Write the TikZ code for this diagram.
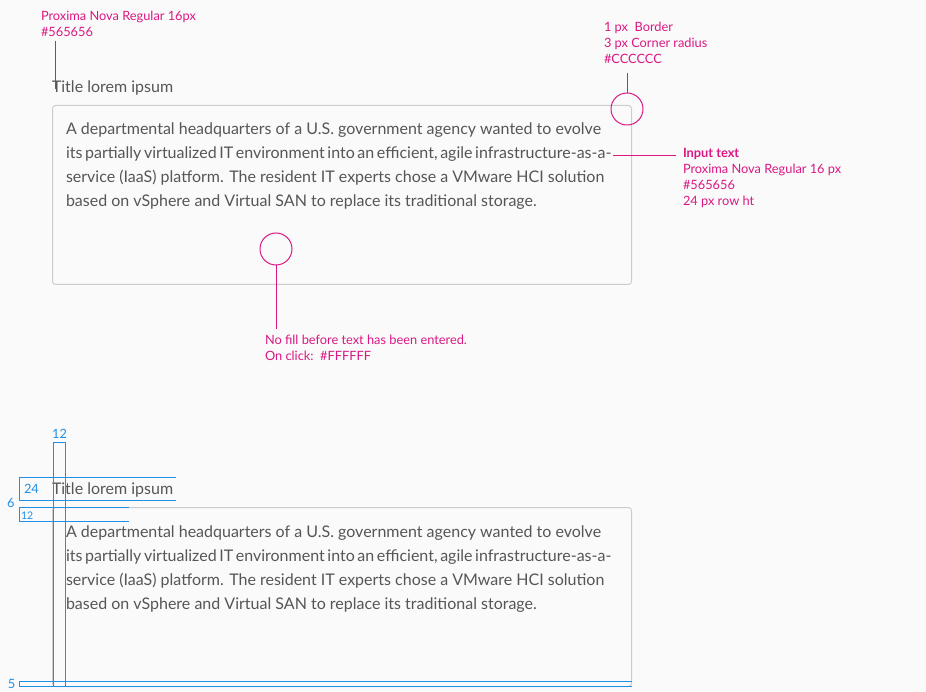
\documentclass[tikz,border=0pt]{standalone}
\usepackage{fontspec}
\setmainfont{Lato}
\definecolor{bg}{HTML}{FAFAFA}
\definecolor{txt}{HTML}{565656}
\definecolor{brd}{HTML}{CCCCCC}
\definecolor{pink}{HTML}{DA1884}
\definecolor{blu}{HTML}{1E90E6}
\begin{document}
\begin{tikzpicture}[x=1pt,y=-1pt,
  every node/.style={inner sep=0pt,outer sep=0pt},
  ann/.style={anchor=base west,text=pink,font=\fontsize{12.8}{16}\selectfont},
  body/.style={anchor=base west,text=txt,font=\fontsize{16}{24}\selectfont},
  ttl/.style={anchor=base west,text=txt,font=\fontsize{16}{18}\selectfont},
  inbox/.style={draw=brd,line width=1pt,rounded corners=3pt},
  ring/.style={circle,draw=pink,line width=1pt,minimum size=32pt},
  pline/.style={draw=pink,line width=1pt},
  bline/.style={draw=blu,line width=1pt},
  bnum/.style={anchor=base west,text=blu,font=\fontsize{12.8}{14}\selectfont},
]
\fill[bg] (0,0) rectangle (926,692);
\useasboundingbox (0,0) rectangle (926,692);

% ---------- top section ----------
\node[ann] (a1) at (41,20.5) {Proxima Nova Regular 16px};
\node[ann] (a2) at (41,36.5) {\#565656};
\node[ttl] (t1) at (52,92.5) {Title lorem ipsum};
\coordinate (a2b) at (55,41);
\coordinate (t1t) at (55,89);
\draw[pline] (a2b) -- (t1t);

\draw[inbox] (52.5,105.5) rectangle (631.5,284.5);
\node[body] (l1) at (66,135) {A departmental headquarters of a U.S. government agency wanted to evolve};
\node[body] (l2) at (66,159) {\spaceskip=2.6pt plus 1pt its partially virtualized IT environment into an efficient, agile infrastructure-as-a-};
\node[body] (l3) at (66,183) {service (IaaS) platform. The resident IT experts chose a VMware HCI solution};
\node[body] (l4) at (66,207) {based on vSphere and Virtual SAN to replace its traditional storage.};

\node[ann] (b1) at (604,32) {1 px\ \ Border};
\node[ann] (b2) at (604,48) {3 px Corner radius};
\node[ann] (b3) at (604,64) {\#CCCCCC};
\node[ring] (c1) at (627,109) {};
\coordinate (b3b) at (627,73);
\draw[pline] (c1.north) -- (b3b);

\node[ann,font=\fontsize{12.8}{16}\selectfont\bfseries] (i1) at (683,157.5) {Input text};
\node[ann] (i2) at (683,173.5) {Proxima Nova Regular 16 px};
\node[ann] (i3) at (683,189.5) {\#565656};
\node[ann] (i4) at (683,205.5) {24 px row ht};
\coordinate (i1w) at (676,155.5);
\draw[pline] ([shift={(1.5,-3.5)}]l2.base east) -- (i1w);

\node[ring] (c2) at (276,249) {};
\node[ann] (n1) at (265,344.5) {No fill before text has been entered.};
\node[ann] (n2) at (265,360.5) {On click:\ \ \#FFFFFF};
\coordinate (n1t) at (276,329);
\draw[pline] (c2.south) -- (n1t);

% ---------- bottom section ----------
\draw[inbox] (52.5,507.5) rectangle (631.5,686.5);
\node[ttl] (t2) at (52,494.5) {Title lorem ipsum};
\node[body] (m1) at (66,537) {A departmental headquarters of a U.S. government agency wanted to evolve};
\node[body] (m2) at (66,561) {\spaceskip=2.6pt plus 1pt its partially virtualized IT environment into an efficient, agile infrastructure-as-a-};
\node[body] (m3) at (66,585) {service (IaaS) platform. The resident IT experts chose a VMware HCI solution};
\node[body] (m4) at (66,609) {based on vSphere and Virtual SAN to replace its traditional storage.};

% blue spacing guides
\draw[bline] (53.5,442.5) rectangle (65.5,686.5);
\node[bnum,anchor=base] (d12) at (59.5,438.5) {12};
\draw[bline] (175.5,477.5) -- (19.5,477.5) -- (19.5,500.5) -- (175.5,500.5);
\node[bnum] (d24) at (24,493.5) {24};
\node[bnum] (d6) at (7,507.5) {6};
\draw[bline] (128.5,507.5) -- (19.5,507.5) -- (19.5,521.5) -- (128.5,521.5);
\node[bnum,font=\fontsize{10.5}{12}\selectfont] (d12b) at (21,519) {12};
\draw[bline] (631.5,681.5) -- (19.5,681.5) -- (19.5,686.5) -- (631.5,686.5);
\node[bnum] (d5) at (8,688.5) {5};
\end{tikzpicture}
\end{document}
